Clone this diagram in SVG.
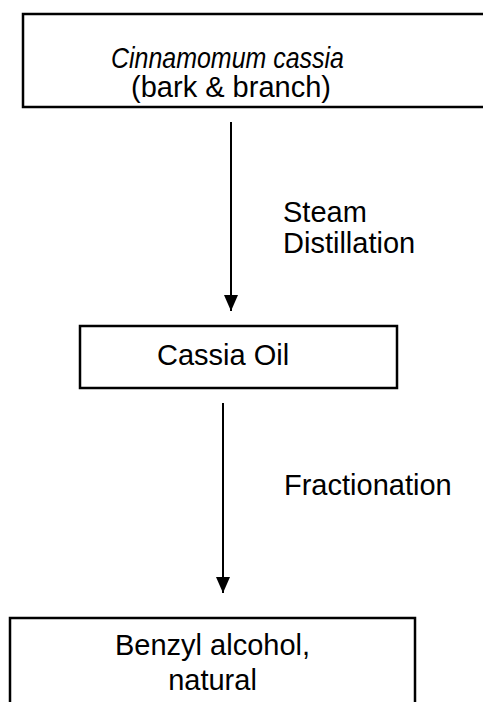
<svg xmlns="http://www.w3.org/2000/svg" width="483" height="702" viewBox="0 0 483 702">
<style>
.box{fill:#fff;stroke:#000;stroke-width:2.5}
.t{font-family:"Liberation Sans",Arial,sans-serif;font-size:29px;fill:#000}
.c{text-anchor:middle}
.line{stroke:#000;stroke-width:2;fill:none}
</style>
<defs>
<marker id="ah" viewBox="0 0 16 14" refX="16" refY="7" markerWidth="16" markerHeight="14" markerUnits="userSpaceOnUse" orient="auto">
<path d="M0,0 L16,7 L0,14 Z" fill="#000"/>
</marker>
</defs>
<rect width="483" height="702" fill="#fff"/>
<g id="node-cassia-plant">
<rect class="box" x="23" y="14" width="470" height="93"/>
<text class="t" x="111" y="68" font-style="italic" textLength="233" lengthAdjust="spacingAndGlyphs">Cinnamomum cassia</text>
<text class="t c" x="231" y="97">(bark &amp; branch)</text>
</g>
<g id="node-cassia-oil">
<rect class="box" x="80" y="326" width="317" height="62"/>
<text class="t" x="157" y="365">Cassia Oil</text>
</g>
<g id="node-benzyl">
<rect class="box" x="10" y="618" width="405" height="100"/>
<text class="t c" x="212.5" y="655">Benzyl alcohol,</text>
<text class="t c" x="212.5" y="690">natural</text>
</g>
<g id="connectors">
<line class="line" x1="231" y1="122" x2="231" y2="311" marker-end="url(#ah)"/>
<text class="t" x="283" y="222">Steam</text>
<text class="t" x="283" y="253">Distillation</text>
<line class="line" x1="223" y1="403" x2="223" y2="593" marker-end="url(#ah)"/>
<text class="t" x="284" y="495">Fractionation</text>
</g>
</svg>
